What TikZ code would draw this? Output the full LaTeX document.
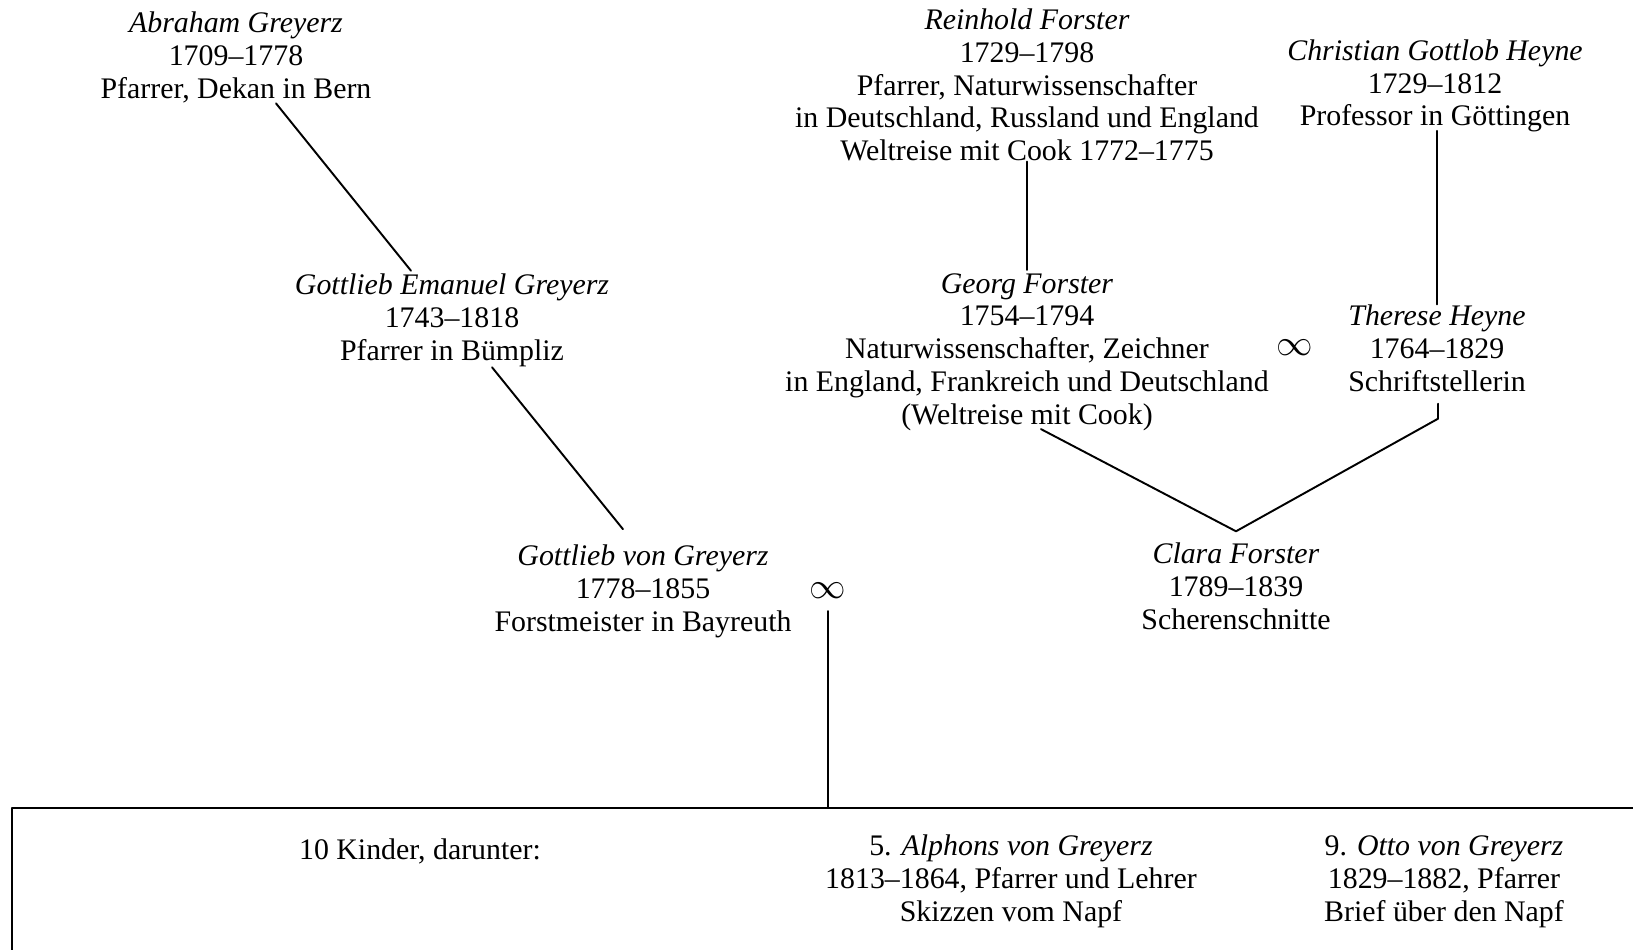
\documentclass[tikz,border=0pt]{standalone}
\usepackage{fontspec}
\setmainfont{Liberation Serif}
\usepackage{amsmath}
\usepackage{tikz}
\usetikzlibrary{calc}

\begin{document}
\begin{tikzpicture}[x=0.02cm,y=-0.02cm,line cap=round,line join=round,
  pers/.style={align=center,inner sep=0pt,font=\fontsize{17}{18.7}\selectfont},
  ehe/.style={inner sep=0pt,font=\fontsize{21}{21}\selectfont},
  verb/.style={line width=1.1pt},
  rand/.style={line width=1.4pt}]
\useasboundingbox (0,0) rectangle (1633,950);
% Greyerz
\node[pers] (abraham) at (236,57.5) {\textit{Abraham Greyerz}\\1709--1778\\Pfarrer, Dekan in Bern};
\node[pers] (gemanuel) at (452,320.5) {\textit{Gottlieb Emanuel Greyerz}\\1743--1818\\Pfarrer in Bümpliz};
\node[pers] (gottlieb) at (643,591) {\textit{Gottlieb von Greyerz}\\1778--1855\\Forstmeister in Bayreuth};
\node[ehe] (ehe1) at (828,591) {$\infty$};
% Forster / Heyne
\node[pers] (reinhold) at (1027,85) {\textit{Reinhold Forster}\\1729--1798\\Pfarrer, Naturwissenschafter\\in Deutschland, Russland und England\\Weltreise mit Cook 1772--1775};
\node[pers] (heyne) at (1435,86) {\textit{Christian Gottlob Heyne}\\1729--1812\\Professor in Göttingen};
\node[pers] (georg) at (1027,352) {\textit{Georg Forster}\\1754--1794\\Naturwissenschafter, Zeichner\\in England, Frankreich und Deutschland\\(Weltreise mit Cook)};
\node[ehe] (ehe2) at (1295,348) {$\infty$};
\node[pers] (therese) at (1437,348) {\textit{Therese Heyne}\\1764--1829\\Schriftstellerin};
\node[pers] (clara) at (1236,586) {\textit{Clara Forster}\\1789--1839\\Scherenschnitte};
% Kinder
\node[pers] (kinder) at (420,851) {10 Kinder, darunter:};
\node[pers] (alphons) at (1011,881.5) {5. \textit{Alphons von Greyerz}\\1813--1864, Pfarrer und Lehrer\\Skizzen vom Napf};
\node[pers] (otto) at (1444,881.5) {9. \textit{Otto von Greyerz}\\1829--1882, Pfarrer\\Brief über den Napf};
\coordinate (boxtop) at (828,808);
\coordinate (claratop) at ($(clara.north)+(0,-11)$);
\draw[rand] (12,950) -- (12,808) -- (1633,808);
% Linien
\draw[verb] ($(abraham.south)+(40,0)$) -- ($(gemanuel.north)+(-41,-3)$);
\draw[verb] ($(gemanuel.south)+(40,0)$) -- ($(gottlieb.north)+(-20,-15)$);
\draw[verb] (ehe1.south) ++(0,12) -- (boxtop);
\draw[verb] ($(reinhold.south)+(0,0)$) -- ($(georg.north)+(0,-3)$);
\draw[verb] ($(heyne.south)+(2,-2)$) -- ($(therese.north)+(0,0)$);
\draw[verb] ($(georg.south)+(14,-2)$) -- (claratop);
\draw[verb] ($(therese.south)+(1,12)$) -- ++(0,15) -- (claratop);
\end{tikzpicture}
\end{document}
